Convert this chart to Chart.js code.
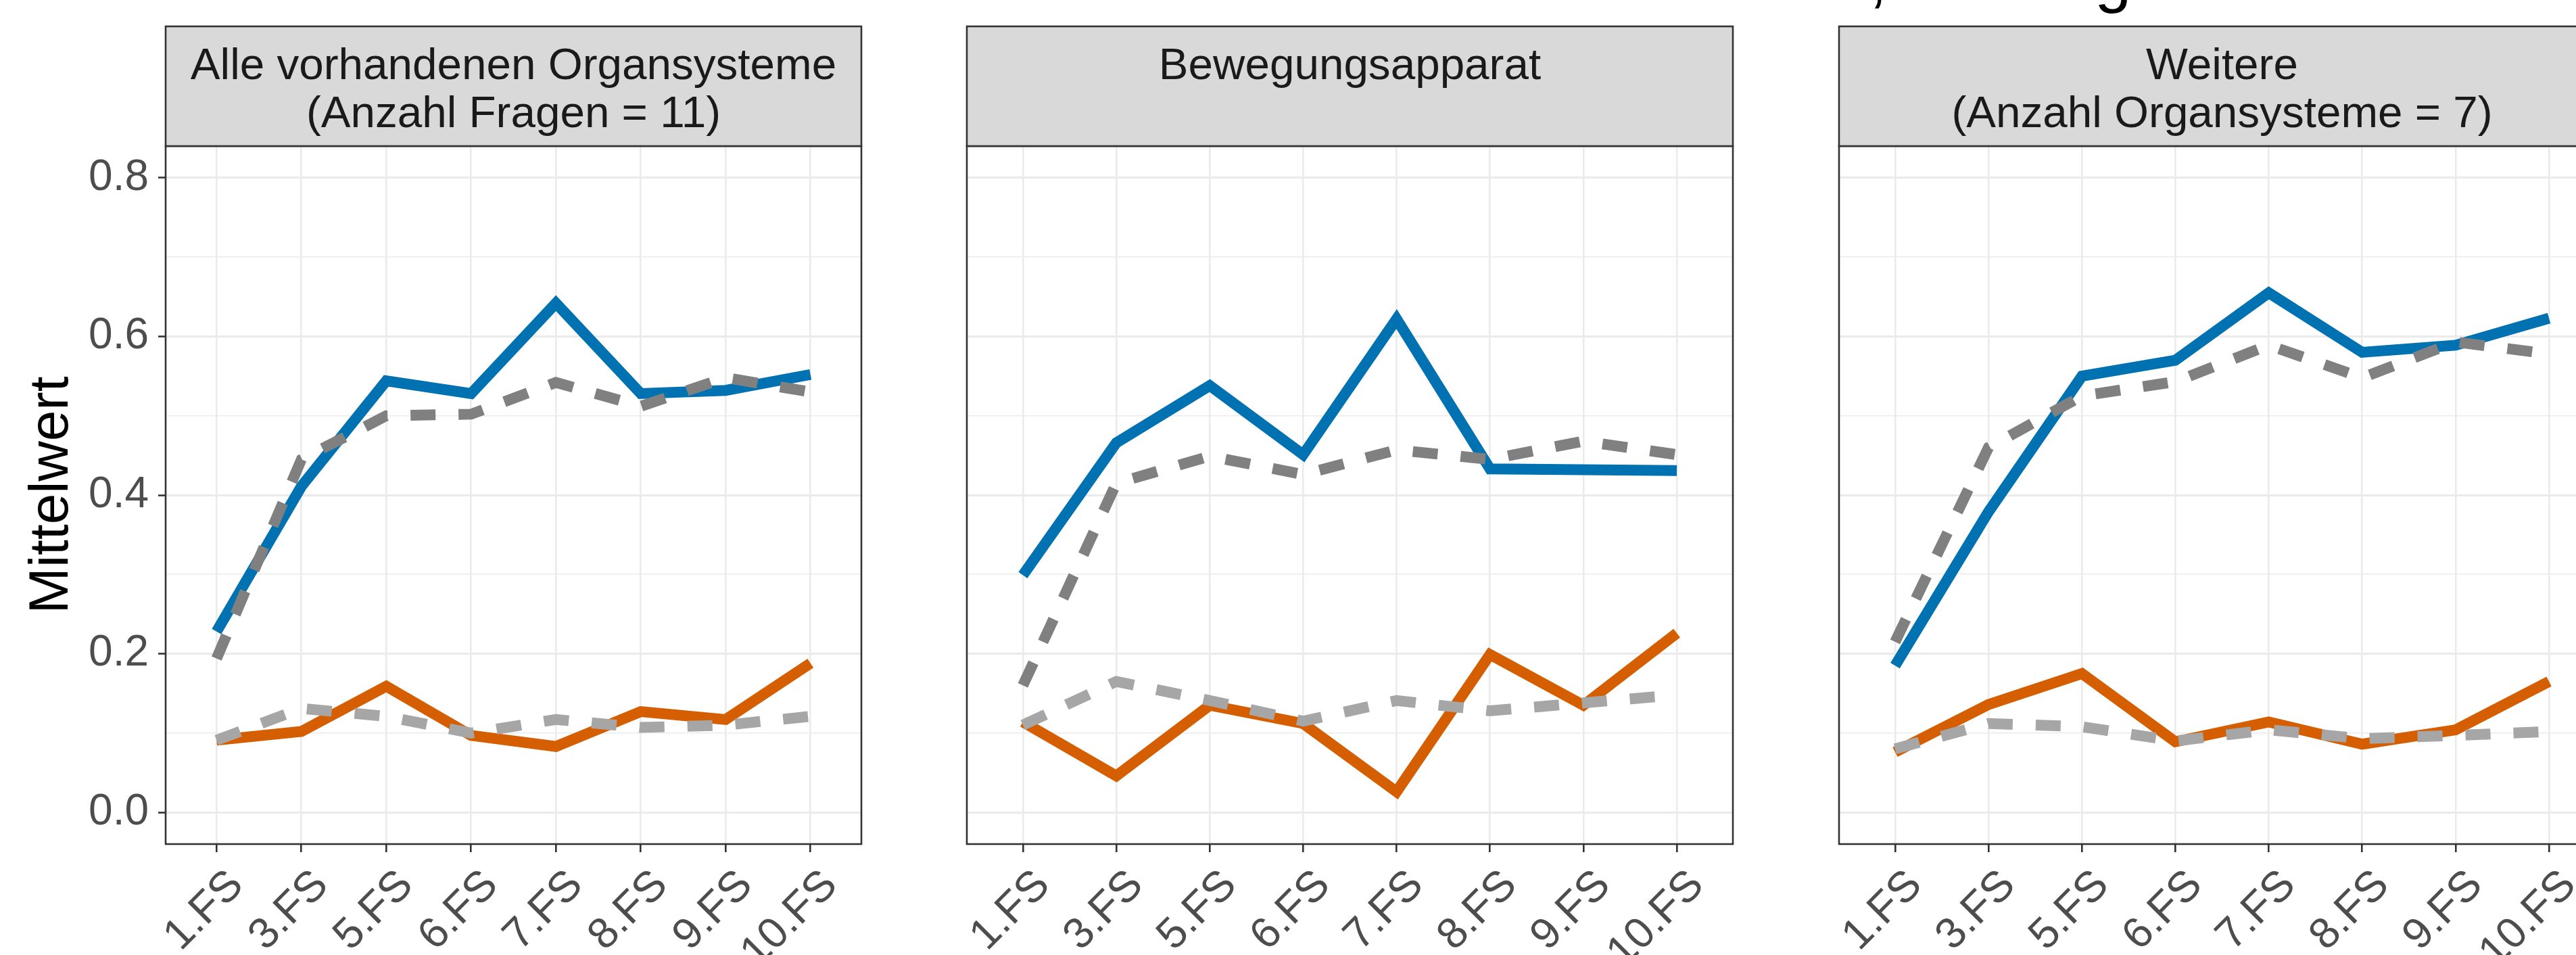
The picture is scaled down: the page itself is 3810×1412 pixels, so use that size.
<!DOCTYPE html>
<html><head><meta charset="utf-8">
<script src="https://cdn.jsdelivr.net/npm/chart.js@4.4.1/dist/chart.umd.min.js"></script>
<style>
html,body{margin:0;padding:0;width:3810px;height:1412px;overflow:hidden;background:#ffffff;}
canvas{position:absolute;top:0;}
</style></head><body>
<canvas id="c1"></canvas><canvas id="c2"></canvas><canvas id="c3"></canvas>
<script>
// ---------- data ----------
const categories = ['1.FS','3.FS','5.FS','6.FS','7.FS','8.FS','9.FS','10.FS'];
const panelTitles = [
  ['Alle vorhandenen Organsysteme', '(Anzahl Fragen = 11)'],
  ['Bewegungsapparat'],
  ['Weitere', '(Anzahl Organsysteme = 7)']
];
const yAxisTitle = 'Mittelwert';
const yTickValues = [0, 0.1, 0.2, 0.3, 0.4, 0.5, 0.6, 0.7, 0.8];
const yTickLabels = ['0.0', '', '0.2', '', '0.4', '', '0.6', '', '0.8'];
const titleFragments = [',', 'g'];

// Panel 1: Alle vorhandenen Organsysteme
const alleBlue      = [0.228, 0.411, 0.544, 0.528, 0.642, 0.528, 0.532, 0.552];
const alleBlueRef   = [0.194, 0.445, 0.500, 0.502, 0.542, 0.512, 0.548, 0.530];
const alleOrange    = [0.091, 0.102, 0.159, 0.097, 0.083, 0.127, 0.117, 0.188];
const alleOrangeRef = [0.091, 0.131, 0.121, 0.100, 0.117, 0.107, 0.110, 0.121];
// Panel 2: Bewegungsapparat
const bewBlue       = [0.299, 0.466, 0.538, 0.451, 0.622, 0.433, 0.432, 0.431];
const bewBlueRef    = [0.160, 0.415, 0.449, 0.426, 0.457, 0.445, 0.468, 0.451];
const bewOrange     = [0.114, 0.046, 0.135, 0.112, 0.026, 0.199, 0.135, 0.226];
const bewOrangeRef  = [0.110, 0.165, 0.141, 0.115, 0.141, 0.128, 0.138, 0.148];
// Panel 3: Weitere
const weiBlue       = [0.185, 0.379, 0.550, 0.570, 0.655, 0.580, 0.589, 0.623];
const weiBlueRef    = [0.215, 0.460, 0.525, 0.543, 0.589, 0.548, 0.593, 0.578];
const weiOrange     = [0.076, 0.136, 0.175, 0.089, 0.114, 0.086, 0.104, 0.165];
const weiOrangeRef  = [0.080, 0.112, 0.108, 0.090, 0.104, 0.093, 0.097, 0.102];

const panelSeries = [
  [alleBlue, alleBlueRef, alleOrange, alleOrangeRef],
  [bewBlue, bewBlueRef, bewOrange, bewOrangeRef],
  [weiBlue, weiBlueRef, weiOrange, weiOrangeRef]
];

// ---------- layout / style ----------
const H = 1412;
const STRIP_TOP = 39, PLOT_TOP = 216, PLOT_BOTTOM = 1248;
const panels = [
  {left: 245, right: 1274, padL: 245, showY: true},
  {left: 1430, right: 2563, padL: 40, showY: false},
  {left: 2720, right: 3853, padL: 40, showY: false}
];
const PAD_R = 40;
const FONT = '"Liberation Sans", Arial, sans-serif';
const BLUE = '#0072B2', ORANGE = '#D55E00', DGREY = '#808080', LGREY = '#A6A6A6';
const DASH = [37, 34];
const LW = 16;

function isMajor(v) { return Math.round(v * 10) % 2 === 0; }

function decorPlugin(idx, canvasLeft) {
  return {
    id: 'decor' + idx,
    afterDraw(chart) {
      const ctx = chart.ctx;
      const a = chart.chartArea;
      ctx.save();
      // panel border
      ctx.strokeStyle = '#333333';
      ctx.lineWidth = 2.6;
      ctx.strokeRect(a.left, a.top, a.right - a.left, a.bottom - a.top);
      // strip
      ctx.fillStyle = '#D9D9D9';
      ctx.fillRect(a.left, STRIP_TOP, a.right - a.left, PLOT_TOP - STRIP_TOP);
      ctx.strokeRect(a.left, STRIP_TOP, a.right - a.left, PLOT_TOP - STRIP_TOP);
      ctx.fillStyle = '#1A1A1A';
      ctx.font = '65.6px ' + FONT;
      ctx.textAlign = 'center';
      ctx.textBaseline = 'alphabetic';
      const cx = (a.left + a.right) / 2;
      const lines = panelTitles[idx];
      const baselines = [117, 188];
      lines.forEach((t, i) => ctx.fillText(t, cx, baselines[i]));
      // y axis title
      if (idx === 0) {
        ctx.save();
        ctx.translate(100, (PLOT_TOP + PLOT_BOTTOM) / 2);
        ctx.rotate(-Math.PI / 2);
        ctx.fillStyle = '#000000';
        ctx.font = '82px ' + FONT;
        ctx.textAlign = 'center';
        ctx.textBaseline = 'alphabetic';
        ctx.fillText(yAxisTitle, 0, 0);
        ctx.restore();
      }
      // visible fragments of the (cropped) main title
      if (idx === 2) {
        ctx.fillStyle = '#000000';
        ctx.font = '98px ' + FONT;
        ctx.textAlign = 'left';
        ctx.textBaseline = 'alphabetic';
        ctx.fillText(titleFragments[0], 2764 - canvasLeft, 0);
        ctx.fillText(titleFragments[1], 3098 - canvasLeft, 0);
      }
      ctx.restore();
    }
  };
}

function toXY(arr) { return arr.map((v, i) => ({x: i, y: v})); }

function makeChart(id, idx) {
  const p = panels[idx];
  const canvas = document.getElementById(id);
  const canvasLeft = p.left - p.padL;
  const W = p.right - p.left + p.padL + PAD_R;
  canvas.width = W; canvas.height = H;
  canvas.style.width = W + 'px'; canvas.style.height = H + 'px';
  canvas.style.left = canvasLeft + 'px';
  const s = panelSeries[idx];
  const ds = (data, color, dashed) => ({
    data: toXY(data), borderColor: color, borderWidth: LW, borderDash: dashed ? DASH : [],
    borderCapStyle: 'butt', borderJoinStyle: 'miter', pointRadius: 0, tension: 0,
    fill: false, order: dashed ? 1 : 2
  });
  return new Chart(canvas, {
    type: 'line',
    data: { datasets: [ds(s[0], BLUE, false), ds(s[2], ORANGE, false), ds(s[1], DGREY, true), ds(s[3], LGREY, true)] },
    options: {
      responsive: false, devicePixelRatio: 1, animation: false, events: [],
      layout: { padding: { left: p.showY ? 0 : p.padL, right: PAD_R, top: PLOT_TOP, bottom: 0 } },
      plugins: { legend: { display: false }, tooltip: { enabled: false }, title: { display: false } },
      scales: {
        x: {
          type: 'linear', min: -0.6, max: 7.6,
          afterBuildTicks: sc => { sc.ticks = categories.map((c, i) => ({value: i})); },
          afterFit: sc => { sc.height = H - PLOT_BOTTOM; },
          ticks: {
            autoSkip: false, maxRotation: 45, minRotation: 45, padding: 12, labelOffset: 30,
            color: '#4D4D4D', font: { family: FONT, size: 64 },
            callback: v => categories[Math.round(v)]
          },
          grid: { color: '#EBEBEB', lineWidth: 2.6, tickColor: '#333333', tickWidth: 2.6, tickLength: 12 },
          border: { display: false }
        },
        y: {
          type: 'linear', min: -0.04, max: 0.84,
          afterBuildTicks: sc => { sc.ticks = yTickValues.map(v => ({value: v})); },
          afterFit: sc => { sc.width = p.showY ? p.padL : 0; },
          ticks: {
            display: p.showY, padding: 14, color: '#4D4D4D', font: { family: FONT, size: 64 },
            callback: (v) => { const k = yTickValues.findIndex(t => Math.abs(t - v) < 1e-9); return k >= 0 ? yTickLabels[k] : ''; }
          },
          grid: {
            color: '#EBEBEB',
            lineWidth: c => (c.tick && isMajor(c.tick.value)) ? 3 : 1.6,
            drawTicks: p.showY, tickLength: 11, tickWidth: 2.6,
            tickColor: c => (c.tick && isMajor(c.tick.value)) ? '#333333' : 'rgba(0,0,0,0)'
          },
          border: { display: false }
        }
      }
    },
    plugins: [decorPlugin(idx, canvasLeft)]
  });
}

makeChart('c1', 0);
makeChart('c2', 1);
makeChart('c3', 2);
</script>
</body></html>
